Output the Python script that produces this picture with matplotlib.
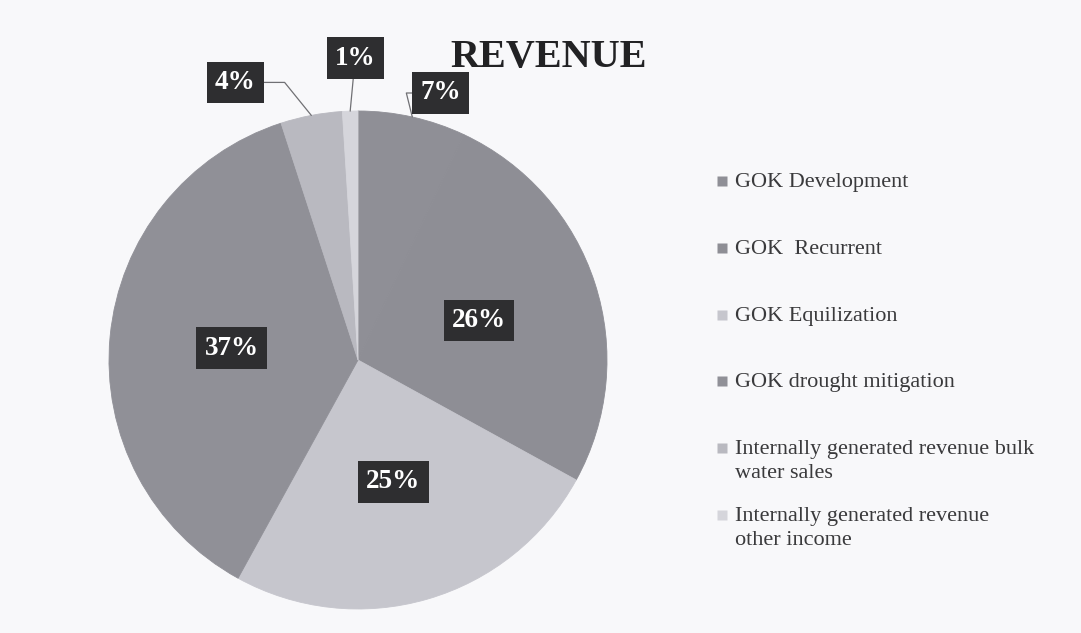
import matplotlib

matplotlib.use("Agg")
import matplotlib.pyplot as plt
import numpy as np

# Revenue shares, clockwise from 12 o'clock
categories = [
    "GOK Development",
    "GOK  Recurrent",
    "GOK Equilization",
    "GOK drought mitigation",
    "Internally generated revenue bulk\nwater sales",
    "Internally generated revenue\nother income",
]
shares = [7, 26, 25, 37, 4, 1]
pct_labels = ["7%", "26%", "25%", "37%", "4%", "1%"]

slice_colors = ["#8f8f96", "#8e8e95", "#c6c6cd", "#909097", "#b9b9c0", "#d5d5db"]
SERIF = ["Liberation Serif", "DejaVu Serif"]

# label placement: ("in", fraction of radius) or ("out", pixel offset, connection)
label_place = [
    ("out", (28, 24), "angle,angleA=180,angleB=104"),
    ("in", 0.51, None),
    ("in", 0.51, None),
    ("in", 0.51, None),
    ("out", (-76, 33), "angle,angleA=0,angleB=129"),
    ("out", (5, 53), "arc3"),
]

W, H = 1081, 633
CX, CY, R = 358, H - 360, 249


def draw_chart(output_path="out.png"):
    fig = plt.figure(figsize=(W / 100, H / 100), dpi=100, facecolor="#f8f8fa")
    ax = fig.add_axes([0, 0, 1, 1])

    wedges, _ = ax.pie(
        shares,
        colors=slice_colors,
        startangle=90,
        counterclock=False,
        center=(CX, CY),
        radius=R,
        wedgeprops=dict(linewidth=0.6),
    )
    # hide seams by matching the edge to the fill
    for w, color in zip(wedges, slice_colors):
        w.set_edgecolor(color)

    ax.set_xlim(0, W)
    ax.set_ylim(0, H)
    ax.set_aspect("equal")
    ax.axis("off")

    box = dict(boxstyle="square,pad=0.3", fc="#2e2e30", ec="none")
    for w, text, place in zip(wedges, pct_labels, label_place):
        theta = np.deg2rad((w.theta1 + w.theta2) / 2)
        cos_t, sin_t = np.cos(theta), np.sin(theta)
        if place[0] == "in":
            ax.text(
                CX + place[1] * R * cos_t,
                CY + place[1] * R * sin_t,
                text,
                ha="center",
                va="center",
                color="white",
                fontsize=19.5,
                fontweight="bold",
                family=SERIF,
                bbox=box,
            )
        else:
            ax.annotate(
                text,
                xy=(CX + R * cos_t, CY + R * sin_t),
                xytext=place[1],
                textcoords="offset pixels",
                ha="center",
                va="center",
                color="white",
                fontsize=19.5,
                fontweight="bold",
                family=SERIF,
                bbox=box,
                arrowprops=dict(
                    arrowstyle="-",
                    color="#707074",
                    lw=0.9,
                    shrinkA=0,
                    shrinkB=0,
                    connectionstyle=place[2],
                ),
            )

    ax.text(
        549,
        H - 57,
        "REVENUE",
        ha="center",
        va="center",
        fontsize=29,
        fontweight="bold",
        family=SERIF,
        color="#222224",
    )

    # legend, one entry every ~66 px
    for i, (name, color) in enumerate(zip(categories, slice_colors)):
        y = H - (181 + i * 66.8)
        ax.plot(722, y, marker="s", markersize=6.5, color=color, mec="none")
        ax.text(
            735,
            y + 8,
            name,
            ha="left",
            va="top",
            fontsize=16,
            family=SERIF,
            color="#3a3a3c",
            linespacing=1.35,
        )

    fig.savefig(output_path, dpi=100, facecolor=fig.get_facecolor())
    plt.close(fig)


draw_chart()
